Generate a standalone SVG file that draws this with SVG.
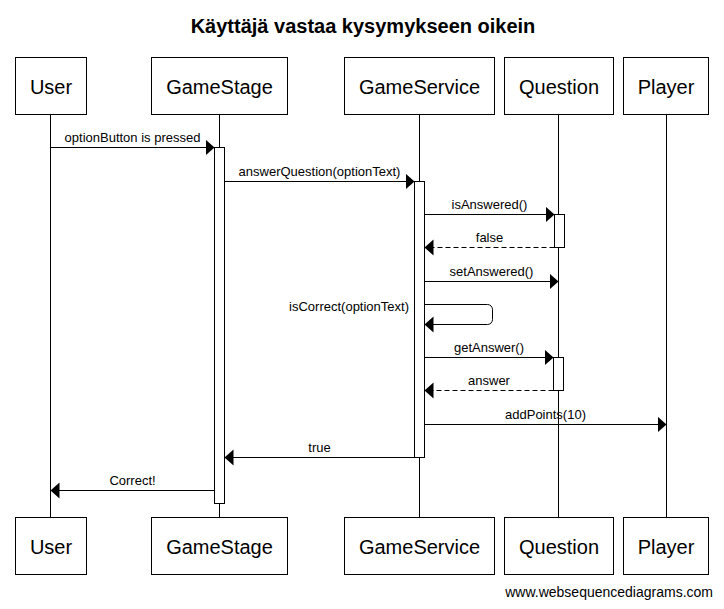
<svg xmlns="http://www.w3.org/2000/svg" width="724" height="609" viewBox="0 0 724 609">
<style>
text{font-family:"Liberation Sans",Arial,sans-serif;fill:#000}
.title{font-size:20px;font-weight:bold;text-anchor:middle}
.box{fill:#fff;stroke:#000;stroke-width:1}
.name{font-size:20px;text-anchor:middle}
.life{stroke:#000;stroke-width:1}
.act{fill:#fff;stroke:#000;stroke-width:1}
.msg{stroke:#000;stroke-width:1;fill:none;marker-end:url(#ah)}
.ret{stroke:#000;stroke-width:1;fill:none;stroke-dasharray:5,3;marker-end:url(#ah)}
.lbl{font-size:13px;text-anchor:middle}
.wm{font-size:14px;text-anchor:end}
</style>
<defs>
<marker id="ah" markerUnits="userSpaceOnUse" markerWidth="10" markerHeight="17" refX="9" refY="8" orient="auto">
<path d="M0,0 L9,8 L0,16 Z" fill="#000"/>
</marker>
</defs>
<rect width="724" height="609" fill="#fff"/>
<text class="title" x="363" y="33">Käyttäjä vastaa kysymykseen oikein</text>

<g id="lifelines">
<line class="life" x1="50.5" y1="114" x2="50.5" y2="518"/>
<line class="life" x1="219.5" y1="114" x2="219.5" y2="518"/>
<line class="life" x1="419.5" y1="114" x2="419.5" y2="518"/>
<line class="life" x1="558.5" y1="114" x2="558.5" y2="518"/>
<line class="life" x1="666.5" y1="114" x2="666.5" y2="518"/>
</g>

<g id="User">
<rect class="box" x="15.5" y="57.5" width="71" height="57"/>
<text class="name" x="51" y="94">User</text>
<rect class="box" x="15.5" y="517.5" width="71" height="57"/>
<text class="name" x="51" y="554">User</text>
</g>
<g id="GameStage">
<rect class="box" x="151.5" y="57.5" width="136" height="57"/>
<text class="name" x="219.5" y="94">GameStage</text>
<rect class="box" x="151.5" y="517.5" width="136" height="57"/>
<text class="name" x="219.5" y="554">GameStage</text>
<rect class="act" x="214.5" y="147.5" width="10" height="356"/>
</g>
<g id="GameService">
<rect class="box" x="344.5" y="57.5" width="150" height="57"/>
<text class="name" x="419.5" y="94">GameService</text>
<rect class="box" x="344.5" y="517.5" width="150" height="57"/>
<text class="name" x="419.5" y="554">GameService</text>
<rect class="act" x="414.5" y="181.5" width="10" height="276"/>
</g>
<g id="Question">
<rect class="box" x="504.5" y="57.5" width="109" height="57"/>
<text class="name" x="559" y="94">Question</text>
<rect class="box" x="504.5" y="517.5" width="109" height="57"/>
<text class="name" x="559" y="554">Question</text>
<rect class="act" x="554.5" y="214.5" width="10" height="33"/>
<rect class="act" x="553.5" y="357.5" width="10" height="33"/>
</g>
<g id="Player">
<rect class="box" x="623.5" y="57.5" width="85" height="57"/>
<text class="name" x="666" y="94">Player</text>
<rect class="box" x="623.5" y="517.5" width="85" height="57"/>
<text class="name" x="666" y="554">Player</text>
</g>

<g id="connectors">
<line class="msg" x1="50.5" y1="147.5" x2="214.5" y2="147.5"/>
<text class="lbl" x="132.5" y="142">optionButton is pressed</text>
<line class="msg" x1="224.5" y1="181.5" x2="414.5" y2="181.5"/>
<text class="lbl" x="319.5" y="176">answerQuestion(optionText)</text>
<line class="msg" x1="424.5" y1="214.5" x2="554.5" y2="214.5"/>
<text class="lbl" x="489.5" y="209">isAnswered()</text>
<line class="ret" x1="554.5" y1="247.5" x2="424.5" y2="247.5"/>
<text class="lbl" x="489.5" y="242">false</text>
<line class="msg" x1="424.5" y1="281.5" x2="558.5" y2="281.5"/>
<text class="lbl" x="491.5" y="276">setAnswered()</text>
<path class="msg" d="M424.5,304.5 H487.5 A5,5 0 0 1 492.5,309.5 V319.5 A5,5 0 0 1 487.5,324.5 H424.5"/>
<text class="lbl" x="409" y="311" style="text-anchor:end">isCorrect(optionText)</text>
<line class="msg" x1="424.5" y1="357.5" x2="553.5" y2="357.5"/>
<text class="lbl" x="489" y="352">getAnswer()</text>
<line class="ret" x1="553.5" y1="390.5" x2="424.5" y2="390.5"/>
<text class="lbl" x="489" y="385">answer</text>
<line class="msg" x1="424.5" y1="424.5" x2="666.5" y2="424.5"/>
<text class="lbl" x="545.5" y="419">addPoints(10)</text>
<line class="msg" x1="414.5" y1="457.5" x2="224.5" y2="457.5"/>
<text class="lbl" x="319.5" y="452">true</text>
<line class="msg" x1="214.5" y1="490.5" x2="50.5" y2="490.5"/>
<text class="lbl" x="132.5" y="485">Correct!</text>
</g>

<text class="wm" x="713" y="597">www.websequencediagrams.com</text>
</svg>
